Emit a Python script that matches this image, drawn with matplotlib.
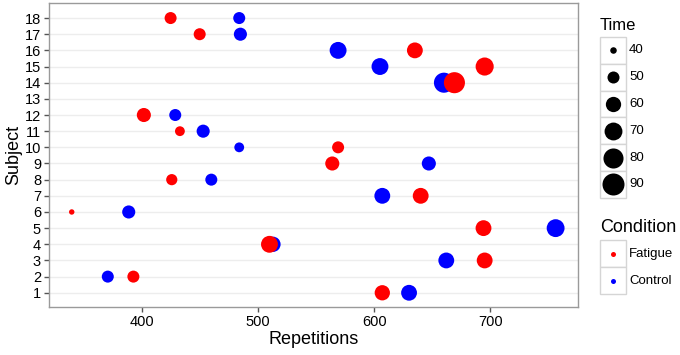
import numpy as np
import matplotlib
matplotlib.use("Agg")
import matplotlib.pyplot as plt
from matplotlib.patches import Rectangle

plt.rcParams['font.family'] = ['Liberation Sans', 'DejaVu Sans']

# data
subjects = [1, 2, 3, 4, 5, 6, 7, 8, 9, 10, 11, 12, 14, 15, 16, 17, 18]
fatigue_reps = [607, 393, 695, 510, 694, 340, 640, 426, 564, 569, 433, 402, 669, 695, 635, 450, 425]
fatigue_time = [60, 50, 62, 66, 62, 39, 62, 48, 56, 50, 45, 56, 85, 71, 62, 50, 50]
control_reps = [630, 371, 662, 513, 756, 389, 607, 460, 647, 484, 453, 429, 660, 605, 569, 485, 484]
control_time = [62, 50, 62, 60, 70, 53, 62, 50, 56, 45, 53, 50, 80, 66, 66, 53, 50]

time_levels = [40, 50, 60, 70, 80, 90]
conditions = ["Fatigue", "Control"]
colors = {"Fatigue": "#FF0000", "Control": "#0000FF"}

DPI = 100
W, H = 680, 355


def marker_area(t):
    # diameter in pixels grows with sqrt of time (ggplot-like area scale)
    d = 2.76 + 2.67 * np.sqrt(np.clip(np.asarray(t, dtype=float) - 38, 0, None))
    return (d * 72.0 / DPI) ** 2


fig = plt.figure(figsize=(W / DPI, H / DPI), dpi=DPI)
ax = fig.add_axes([48.7 / W, 1 - 307 / H, (578.3 - 48.7) / W, (307 - 2.7) / H])

ax.scatter(control_reps, subjects, s=marker_area(control_time), c=colors["Control"], linewidths=0, zorder=3)
ax.scatter(fatigue_reps, subjects, s=marker_area(fatigue_time), c=colors["Fatigue"], linewidths=0, zorder=4)

ax.set_xlim(320.2, 775.5)
ax.set_ylim(0.12, 18.95)
ax.set_xticks([400, 500, 600, 700])
ax.set_yticks(range(1, 19))
ax.yaxis.grid(True, color="#EDEDED", linewidth=1.0)
ax.set_axisbelow(True)
for sp in ax.spines.values():
    sp.set_color("#9A9A9A")
    sp.set_linewidth(1.0)
ax.tick_params(axis="both", colors="#555555", labelcolor="black", labelsize=10.5, length=3.5, width=1.0, pad=2)
ax.set_xlabel("Repetitions", fontsize=13, labelpad=2)
ax.set_ylabel("Subject", fontsize=13, labelpad=2)

# legends drawn in a pixel-space overlay
lax = fig.add_axes([0, 0, 1, 1], zorder=5)
lax.set_xlim(0, W)
lax.set_ylim(H, 0)
lax.axis("off")

lax.text(600, 25, "Time", fontsize=12, va="center", ha="left")
box_top, box_h, box_x, box_w = 37, 26.8, 599.5, 26.5
for i, t in enumerate(time_levels):
    y0 = box_top + i * box_h
    lax.add_patch(Rectangle((box_x, y0), box_w, box_h, facecolor="white", edgecolor="#D5D5D5", linewidth=1.0))
    lax.scatter([box_x + box_w / 2], [y0 + box_h / 2], s=marker_area(t), c="black", linewidths=0)
    lax.text(box_x + box_w + 3, y0 + box_h / 2, str(t), fontsize=9.5, va="center", ha="left")

lax.text(600, 228, "Condition", fontsize=13, va="center", ha="left")
cbox_top, cbox_h = 240, 27
for i, c in enumerate(conditions):
    y0 = cbox_top + i * cbox_h
    lax.add_patch(Rectangle((box_x, y0), box_w, cbox_h, facecolor="white", edgecolor="#D5D5D5", linewidth=1.0))
    lax.scatter([box_x + box_w / 2], [y0 + cbox_h / 2], s=(5 * 72.0 / DPI) ** 2, c=colors[c], linewidths=0)
    lax.text(box_x + box_w + 3, y0 + cbox_h / 2, c, fontsize=9.5, va="center", ha="left")

fig.savefig("out.png", dpi=DPI)
